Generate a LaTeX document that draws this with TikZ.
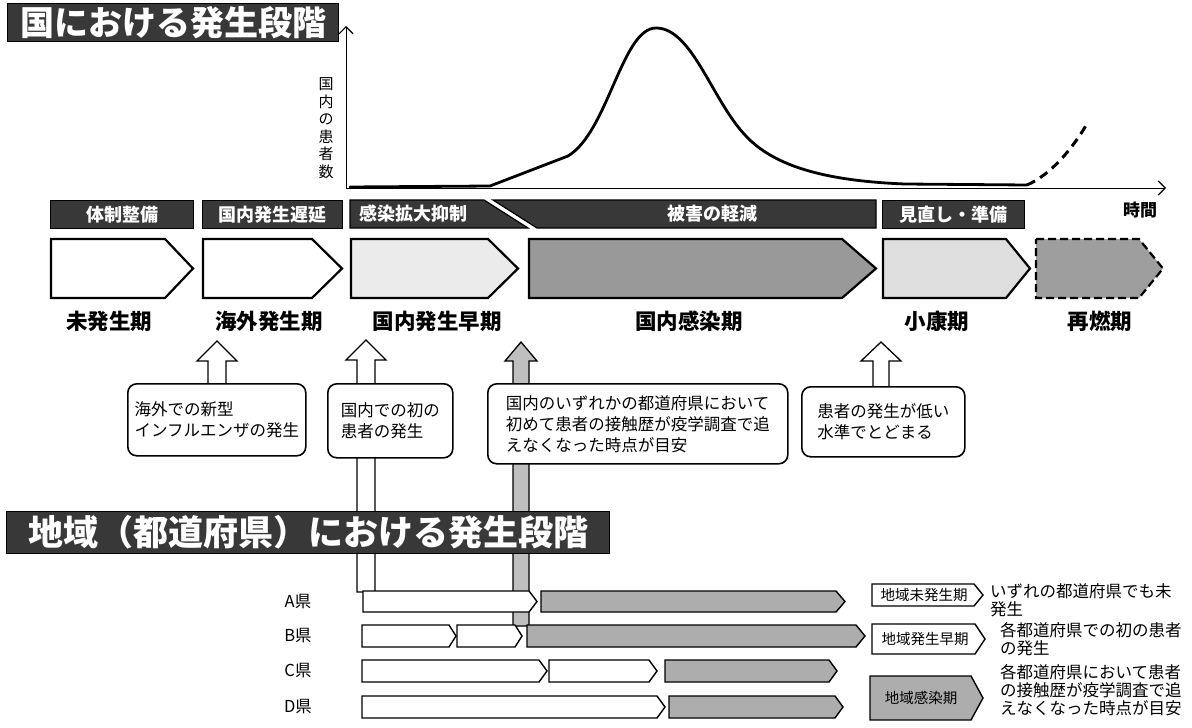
\documentclass[tikz,border=0pt]{standalone}
\usepackage{fontspec}
\setmainfont{Noto Sans CJK JP}
\usetikzlibrary{arrows.meta}
% style, x1, y1, x2, y2, depth
\newcommand\chevpath[6]{%
  \path[#1] (#2,#3) -- ({#4-#6},#3) -- (#4,{(#3+#5)/2}) -- ({#4-#6},#5) -- (#2,#5) -- cycle;}
% style, cx, tipy, heady, bottomy, halfhead, halfshaft
\newcommand\uparrowpath[7]{%
  \path[#1] (#2,#3) -- ({#2+#6},#4) -- ({#2+#7},#4) -- ({#2+#7},#5) -- ({#2-#7},#5) -- ({#2-#7},#4) -- ({#2-#6},#4) -- cycle;}
\begin{document}
\begin{tikzpicture}[x=1pt,y=-1pt,
  darkbox/.style={fill=black!78, draw=black, line width=1.2pt},
  bigtitle/.style={text=white, font=\bfseries\fontsize{34}{35}\selectfont},
  hdrtext/.style={text=white, font=\bfseries\fontsize{18}{18}\selectfont},
  chevbox/.style={draw=black, line width=2.2pt, line join=miter},
  phaselabel/.style={font=\bfseries\fontsize{21.5}{22}\selectfont},
  notebox/.style={draw=black, line width=1.6pt, rounded corners=9pt, fill=white, align=left, inner sep=0pt, font=\fontsize{16.5}{21}\selectfont},
  blockarrow/.style={draw=black, line width=1.3pt, fill=white},
  prefbar/.style={draw=black, line width=1.4pt, fill=white},
  texfill/.style={fill=black!32},
  preflabel/.style={font=\fontsize{16.5}{17}\selectfont},
  legendbox/.style={font=\fontsize{14.5}{15}\selectfont},
  legendtext/.style={font=\fontsize{16.5}{18}\selectfont, align=left, anchor=north west, inner sep=0pt},
  axis/.style={line width=1pt, -{Straight Barb[length=7pt,width=14pt,line width=1.2pt]}},
]
\useasboundingbox (0,0) rectangle (1192,728);
\fill[white] (0,0) rectangle (1192,728);

% ---------- title 1
\node[darkbox, bigtitle, minimum width=331, minimum height=38, anchor=north west, inner sep=0] (title1) at (7,3) {国における発生段階};

% ---------- graph
\coordinate (origin) at (346,188);
\coordinate (ytop) at (346,26);
\coordinate (xend) at (1166,188);
\draw[axis] (origin) -- (ytop);
\draw[axis] (origin) -- (xend);
\node[font=\fontsize{15}{17.5}\selectfont, align=center] (ylabel) at (326,128) {国\\内\\の\\患\\者\\数};
\node[font=\bfseries\fontsize{17}{17}\selectfont] (timelabel) at (1140,210) {時間};
\draw[line width=2.8pt, line cap=round, line join=round]
  (350,187) -- (490,186) -- (568,156)
  .. controls (608,132) and (622,28) .. (656,28)
  .. controls (692,28) and (712,100) .. (745,135)
  .. controls (775,168) and (830,181) .. (905,184) -- (1027,185);
\draw[line width=3pt, dash pattern=on 9pt off 6pt]
  (1027,185) .. controls (1050,175) and (1072,150) .. (1088,122);

% ---------- header bars
\node[darkbox, hdrtext, minimum width=143, minimum height=28, anchor=north west, inner sep=0] (h1) at (50,200) {体制整備};
\node[darkbox, hdrtext, minimum width=140, minimum height=28, anchor=north west, inner sep=0] (h2) at (202,200) {国内発生遅延};
\path[darkbox] (350,200) -- (484,200) -- (528,228) -- (350,228) -- cycle;
\node[hdrtext] (h3) at (413,214) {感染拡大抑制};
\path[darkbox] (493,200) -- (876,200) -- (876,228) -- (537,228) -- cycle;
\node[hdrtext] (h4) at (712,214) {被害の軽減};
\node[darkbox, hdrtext, minimum width=142, minimum height=28, anchor=north west, inner sep=0] (h5) at (882,200) {見直し・準備};

% ---------- phase chevrons
\chevpath{chevbox, fill=white}{51}{239}{193}{298}{28}
\chevpath{chevbox, fill=white}{203}{239}{342}{298}{30}
\chevpath{chevbox, fill=black!8}{351}{239}{518}{298}{30}
\chevpath{chevbox, fill=black!40}{529}{239}{876}{298}{34}
\chevpath{chevbox, fill=black!13}{883}{239}{1030}{298}{24}
\chevpath{chevbox, fill=black!38, dash pattern=on 8pt off 4pt}{1036}{239}{1163}{298}{24}

\node[phaselabel] (p1) at (109,321) {未発生期};
\node[phaselabel] (p2) at (269,321) {海外発生期};
\node[phaselabel] (p3) at (437,321) {国内発生早期};
\node[phaselabel] (p4) at (689,321) {国内感染期};
\node[phaselabel] (p5) at (937,321) {小康期};
\node[phaselabel] (p6) at (1100,321) {再燃期};

% ---------- block arrows
\uparrowpath{blockarrow}{217}{341}{361}{385}{20}{9}
\uparrowpath{blockarrow}{366}{340}{360}{592}{20}{9}
\uparrowpath{blockarrow, fill=black!25}{521}{342}{361}{626}{16}{8}
\uparrowpath{blockarrow}{881}{342}{361}{388}{20}{8}

% ---------- note boxes
\node[notebox, minimum width=178, minimum height=72, anchor=north west] (n1) at (127,383) {海外での新型\\インフルエンザの発生};
\node[notebox, minimum width=125, minimum height=74, anchor=north west] (n2) at (327,383) {国内での初の\\患者の発生};
\node[notebox, minimum width=300, minimum height=80, anchor=north west] (n3) at (487,383) {国内のいずれかの都道府県において\\初めて患者の接触歴が疫学調査で追\\えなくなった時点が目安};
\node[notebox, minimum width=163, minimum height=70, anchor=north west] (n4) at (801,386) {患者の発生が低い\\水準でとどまる};

% ---------- title 2
\node[darkbox, bigtitle, font=\bfseries\fontsize{35}{36}\selectfont, minimum width=603, minimum height=42, anchor=north west, inner sep=0] (title2) at (6,511) {地域（都道府県）における発生段階};

% ---------- prefecture rows
\node[preflabel] (la) at (298,602) {A県};
\chevpath{prefbar}{363}{591}{537}{612}{8}
\chevpath{prefbar, texfill}{541}{591}{845}{612}{9}

\node[preflabel] (lb) at (298,636) {B県};
\chevpath{prefbar}{362}{625}{456}{647}{7}
\chevpath{prefbar}{457}{625}{522}{647}{7}
\chevpath{prefbar, texfill}{527}{625}{865}{647}{9}

\node[preflabel] (lc) at (298,671) {C県};
\chevpath{prefbar}{362}{660}{547}{682}{8}
\chevpath{prefbar}{549}{660}{657}{682}{8}
\chevpath{prefbar, texfill}{665}{660}{837}{682}{8}

\node[preflabel] (ld) at (298,707) {D県};
\chevpath{prefbar}{362}{696}{665}{718}{8}
\chevpath{prefbar, texfill}{669}{696}{843}{718}{8}

% ---------- legend
\chevpath{prefbar}{872}{584}{983}{606}{9}
\node[legendbox] (g1) at (924,595) {地域未発生期};
\chevpath{prefbar}{872}{624}{985}{654}{10}
\node[legendbox] (g2) at (925,639) {地域発生早期};
\chevpath{prefbar, texfill}{870}{676}{983}{720}{12}
\node[legendbox] (g3) at (921,698) {地域感染期};

\node[legendtext] (t1) at (990,583) {いずれの都道府県でも未\\発生};
\node[legendtext] (t2) at (1000,622) {各都道府県での初の患者\\の発生};
\node[legendtext] (t3) at (1000,664) {各都道府県において患者\\の接触歴が疫学調査で追\\えなくなった時点が目安};
\end{tikzpicture}
\end{document}
